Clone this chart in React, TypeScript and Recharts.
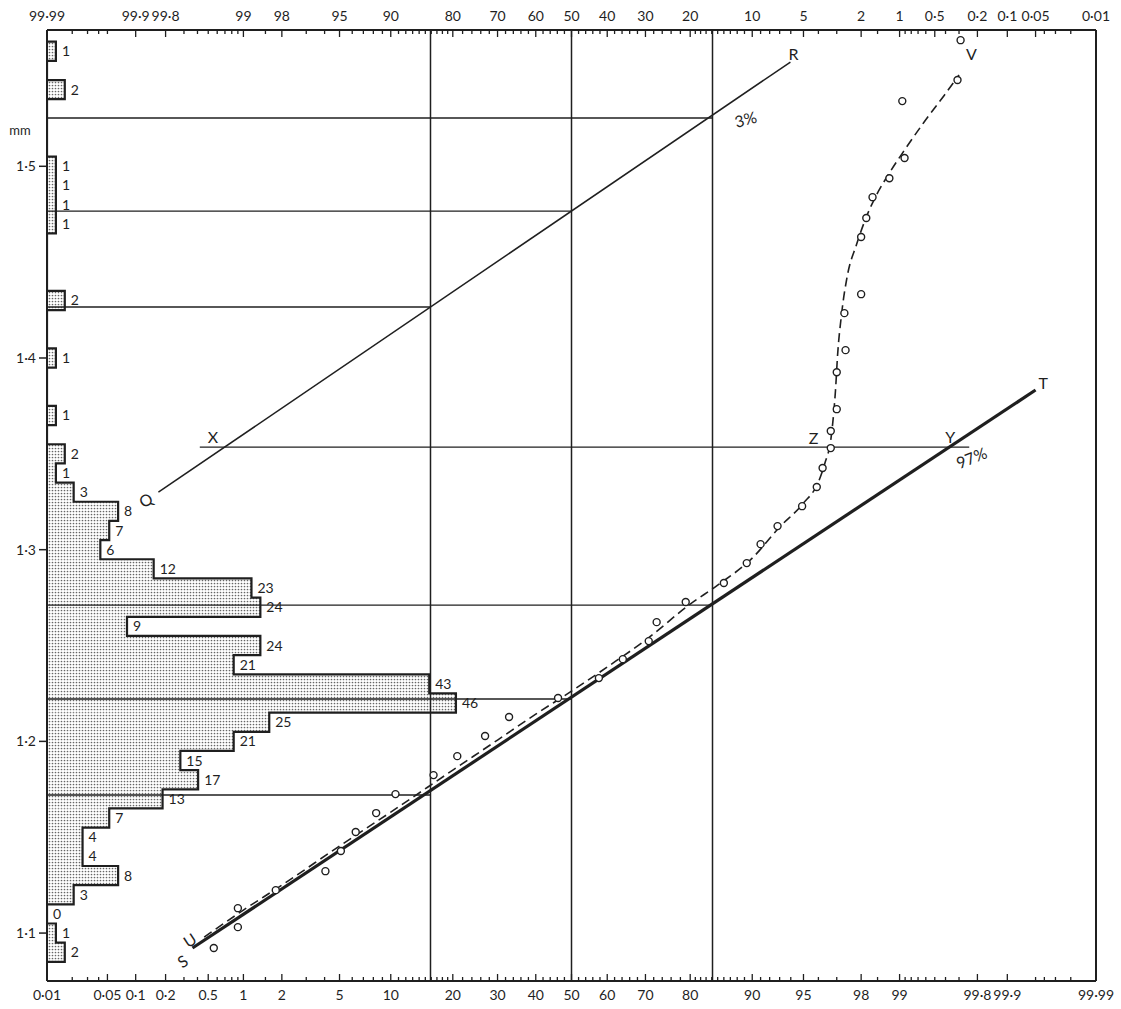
import {
  ComposedChart, XAxis, YAxis, Line, Scatter, ReferenceLine, ReferenceArea, ReferenceDot,
} from 'recharts'

const FONT = 'Lato, "Open Sans", sans-serif'
const INK = '#1f1f1f'

// histogram of diameters: bin centres (mm) and counts
const binMm = [
  1.09, 1.10, 1.11, 1.12, 1.13, 1.14, 1.15, 1.16, 1.17, 1.18, 1.19, 1.20,
  1.21, 1.22, 1.23, 1.24, 1.25, 1.26, 1.27, 1.28, 1.29, 1.30, 1.31, 1.32,
  1.33, 1.34, 1.35, 1.36, 1.37, 1.38, 1.39, 1.40, 1.41, 1.42, 1.43, 1.44,
  1.45, 1.46, 1.47, 1.48, 1.49, 1.50, 1.51, 1.52, 1.53, 1.54, 1.55, 1.56,
]
const binCount = [
  2, 1, 0, 3, 8, 4, 4, 7, 13, 17, 15, 21,
  25, 46, 43, 21, 24, 9, 24, 23, 12, 6, 7, 8,
  3, 1, 2, 0, 1, 0, 0, 1, 0, 0, 2, 0,
  0, 0, 1, 1, 1, 1, 0, 0, 0, 2, 0, 1,
]
const zeroLabelled = [1.11]

// probability scale ticks (percent under the curve, read from the bottom)
const bottomTickPct = [0.01, 0.05, 0.1, 0.2, 0.5, 1, 2, 5, 10, 20, 30, 40, 50, 60, 70, 80, 90, 95, 98, 99, 99.8, 99.9, 99.99]
const bottomTickText = ['0·01', '0·05', '0·1', '0·2', '0.5', '1', '2', '5', '10', '20', '30', '40', '50', '60', '70', '80', '90', '95', '98', '99', '99·8', '99·9', '99·99']
const topTickPct = [0.01, 0.1, 0.2, 1, 2, 5, 10, 20, 30, 40, 50, 60, 70, 80, 90, 95, 98, 99, 99.5, 99.8, 99.9, 99.95, 99.99]
const topTickText = ['99·99', '99·9', '99·8', '99', '98', '95', '90', '80', '70', '60', '50', '40', '30', '20', '10', '5', '2', '1', '0·5', '0·2', '0·1', '0·05', '0·01']
const minorTickPct = [
  0.02, 0.03, 0.04, 0.05, 0.3, 0.4, 0.5, 0.6, 0.7, 0.8, 0.9, 1.5, 3, 4, 6, 7, 8, 9,
  11, 12, 13, 14, 15, 16, 17, 18, 19, 22, 24, 26, 28, 32, 34, 36, 38, 42, 44, 46, 48,
  52, 54, 56, 58, 62, 64, 66, 68, 72, 74, 76, 78, 81, 82, 83, 84, 85, 86, 87, 88, 89,
  91, 92, 93, 94, 96, 97, 98.5, 99.1, 99.2, 99.3, 99.4, 99.5, 99.6, 99.7, 99.95, 99.96, 99.97, 99.98,
]
const mmTicks = [1.1, 1.2, 1.3, 1.4, 1.5]

// plotted cumulative points (open circles)
const pointPct = [
  0.56, 0.9, 0.9, 1.8, 4.05, 5.1, 6.3, 8.3, 10.6, 16.4, 20.9, 27.0, 32.9, 46.2,
  57.7, 64.2, 70.8, 72.7, 79.1, 86.0, 89.3, 91.0, 92.8, 94.9, 95.9, 96.25, 96.7,
  96.7, 97.0, 97.0, 97.4, 97.35, 98.0, 98.0, 98.17, 98.36, 98.79, 99.09, 99.05, 99.69, 99.71,
]
const pointMm = [
  1.0922, 1.1031, 1.1130, 1.1224, 1.1323, 1.1428, 1.1527, 1.1626, 1.1725, 1.1824, 1.1923, 1.2028, 1.2127, 1.2226,
  1.2330, 1.2429, 1.2523, 1.2622, 1.2727, 1.2826, 1.2930, 1.3029, 1.3123, 1.3227, 1.3327, 1.3426, 1.3530,
  1.3619, 1.3733, 1.3926, 1.4041, 1.4234, 1.4333, 1.4631, 1.4730, 1.4839, 1.4938, 1.5043, 1.5340, 1.5450, 1.5658,
]

// dashed curve U–V
const curvePct = [
  0.46, 1, 2, 5, 10, 20, 30, 40, 50, 60, 70, 80, 85, 90, 93, 95, 96,
  96.4, 96.7, 96.84, 96.94, 97.04, 97.22, 97.48, 97.83, 98.17, 98.47, 98.79, 99.09, 99.38, 99.59, 99.7,
]
const curveMm = [
  1.0979, 1.112, 1.125, 1.1454, 1.1631, 1.185, 1.2007, 1.2142, 1.2262, 1.2388, 1.2528, 1.2716, 1.2815, 1.2956, 1.3118, 1.3243, 1.3353,
  1.3457, 1.3572, 1.3702, 1.3833, 1.4015, 1.4224, 1.4432, 1.4589, 1.4735, 1.485, 1.4965, 1.5085, 1.5231, 1.5371, 1.5476,
]

// straight lines S–T (97 %) and Q–R (3 %)
const stPct = [0.36, 99.95]
const stMm = [1.0922, 1.3833]
const qrPct = [0.17, 93.97]
const qrMm = [1.330, 1.5544]

// construction lines
const vPct = [15.87, 50, 84.13]
const hFromPct = [0.01, 0.01, 0.01, 0.42, 0.01, 0.01, 0.01]
const hToPct = [84.13, 50, 15.87, 99.76, 84.13, 50, 15.87]
const hMm = [1.5252, 1.4766, 1.4266, 1.3535, 1.2711, 1.2221, 1.1720]

const CNT_MAX = 118

// inverse normal CDF (Acklam), percent in -> z out
function probit(pct: number) {
  const p = pct / 100
  const a = [-39.69683028665376, 220.9460984245205, -275.9285104469687, 138.357751867269, -30.66479806614716, 2.506628277459239]
  const b = [-54.47609879822406, 161.5858368580409, -155.6989798598866, 66.80131188771972, -13.28068155288572]
  const c = [-0.007784894002430293, -0.3223964580411365, -2.400758277161838, -2.549732539343734, 4.374664141464968, 2.938163982698783]
  const d = [0.007784695709041462, 0.3224671290700398, 2.445134137142996, 3.754408661907416]
  const lo = 0.02425
  if (p < lo) {
    const q = Math.sqrt(-2 * Math.log(p))
    return (((((c[0] * q + c[1]) * q + c[2]) * q + c[3]) * q + c[4]) * q + c[5]) / ((((d[0] * q + d[1]) * q + d[2]) * q + d[3]) * q + 1)
  }
  if (p > 1 - lo) {
    const q = Math.sqrt(-2 * Math.log(1 - p))
    return -(((((c[0] * q + c[1]) * q + c[2]) * q + c[3]) * q + c[4]) * q + c[5]) / ((((d[0] * q + d[1]) * q + d[2]) * q + d[3]) * q + 1)
  }
  const q = p - 0.5
  const r = q * q
  return (((((a[0] * r + a[1]) * r + a[2]) * r + a[3]) * r + a[4]) * r + a[5]) * q / (((((b[0] * r + b[1]) * r + b[2]) * r + b[3]) * r + b[4]) * r + 1)
}

const zMin = probit(0.01)
const zMax = probit(99.99)

const bottomTicks = [...bottomTickPct, ...minorTickPct.filter((p) => !bottomTickPct.includes(p))].map(probit)
const topTicks = [...topTickPct, ...minorTickPct.filter((p) => !topTickPct.includes(p))].map(probit)

const points = pointPct.map((p, i) => ({ x: probit(p), y: pointMm[i] }))
const curve = curvePct.map((p, i) => ({ x: probit(p), y: curveMm[i] }))
const stLine = stPct.map((p, i) => ({ x: probit(p), y: stMm[i] }))
const qrLine = qrPct.map((p, i) => ({ x: probit(p), y: qrMm[i] }))

const outline: { c: number; y: number }[] = [{ c: 0, y: binMm[0] - 0.005 }]
binMm.forEach((m, i) => {
  outline.push({ c: binCount[i], y: m - 0.005 }, { c: binCount[i], y: m + 0.005 })
})
outline.push({ c: 0, y: binMm[binMm.length - 1] + 0.005 })

function ProbTick(props: any) {
  const { x, y, payload, side } = props
  const pcts = side === 'top' ? topTickPct : bottomTickPct
  const texts = side === 'top' ? topTickText : bottomTickText
  const i = pcts.findIndex((p) => Math.abs(probit(p) - payload.value) < 1e-9)
  const len = i >= 0 ? 7 : 4
  const d = side === 'top' ? 1 : -1
  return (
    <g>
      <line x1={x} y1={y} x2={x} y2={y + d * len} stroke={INK} strokeWidth={1.3} />
      {i >= 0 && (
        <text x={x} y={side === 'top' ? y - 9 : y + 19} textAnchor='middle' fontSize={14} fontFamily={FONT} fill={INK}>
          {texts[i]}
        </text>
      )}
    </g>
  )
}

function Tag(props: any) {
  const { viewBox, text, dx = 0, dy = 0, rot = 0, size = 16, anchor = 'start' } = props
  if (!viewBox) return null
  const x = viewBox.x + (viewBox.width || 0) / 2 + dx
  const y = viewBox.y + (viewBox.height || 0) / 2 + dy
  return (
    <text x={x} y={y} fontSize={size} fontFamily={FONT} fill={INK} textAnchor={anchor}
      transform={rot ? `rotate(${rot} ${x} ${y})` : undefined}>
      {text}
    </text>
  )
}

export default function App() {
  const ids = { xAxisId: 'p', yAxisId: 'mm' }
  return (
    <div style={{ position: 'absolute', left: 0, top: 0, width: 1121, height: 1009, background: '#fff' }}>
      <ComposedChart width={1121} height={1009} margin={{ top: 0, right: 25, bottom: 0, left: 0 }}>
        <defs>
          <pattern id='dots' width={3} height={3} patternUnits='userSpaceOnUse'>
            <rect width={3} height={3} fill='#fff' />
            <circle cx={1.5} cy={1.5} r={0.85} fill='#666' />
          </pattern>
        </defs>
        <XAxis
          xAxisId='p' dataKey='x' type='number' domain={[zMin, zMax]} allowDataOverflow
          ticks={bottomTicks} interval={0} tickSize={0} tickMargin={0} height={28}
          axisLine={{ stroke: INK, strokeWidth: 2 }} tickLine={false}
          tick={(t: any) => <ProbTick {...t} side='bottom' />}
        />
        <XAxis
          xAxisId='top' dataKey='x' orientation='top' type='number' domain={[zMin, zMax]} allowDataOverflow
          ticks={topTicks} interval={0} tickSize={0} tickMargin={0} height={30}
          axisLine={{ stroke: INK, strokeWidth: 2 }} tickLine={false}
          tick={(t: any) => <ProbTick {...t} side='top' />}
        />
        <XAxis xAxisId='cnt' dataKey='c' type='number' domain={[0, CNT_MAX]} allowDataOverflow hide height={0} />
        <YAxis
          yAxisId='mm' dataKey='y' type='number' domain={[1.075, 1.5711]} allowDataOverflow
          ticks={mmTicks} interval={0} width={47} tickSize={8} tickMargin={3}
          axisLine={{ stroke: INK, strokeWidth: 2 }} tickLine={{ stroke: INK, strokeWidth: 1.5 }}
          tickFormatter={(v: number) => v.toFixed(1).replace('.', '·')}
          tick={{ fontSize: 14, fill: INK, fontFamily: FONT }}
        />

        {binMm.map((m, i) => binCount[i] > 0 && (
          <ReferenceArea key={`bin-${m}`} xAxisId='cnt' yAxisId='mm' x1={0} x2={binCount[i]}
            y1={m - 0.005} y2={m + 0.005} fill='url(#dots)' fillOpacity={1} stroke='none' ifOverflow='visible' />
        ))}

        {vPct.map((p) => (
          <ReferenceLine key={`v-${p}`} {...ids} x={probit(p)} stroke={INK} strokeWidth={1.5} />
        ))}
        <ReferenceLine {...ids} x={zMax} stroke={INK} strokeWidth={2} />
        {hMm.map((m, i) => (
          <ReferenceLine key={`h-${i}`} {...ids} ifOverflow='visible'
            segment={[{ x: probit(hFromPct[i]), y: m }, { x: probit(hToPct[i]), y: m }]}
            stroke={INK} strokeWidth={1.4} />
        ))}

        {/* carries the top scale, draws nothing */}
        <Line xAxisId='top' yAxisId='mm' data={stLine} dataKey='y' stroke='none' dot={false}
          activeDot={false} isAnimationActive={false} />
        <Line xAxisId='cnt' yAxisId='mm' data={outline} dataKey='y' type='linear' stroke={INK}
          strokeWidth={2.2} dot={false} activeDot={false} isAnimationActive={false} />
        <Line {...ids} data={qrLine} dataKey='y' type='linear' stroke={INK} strokeWidth={1.5}
          dot={false} activeDot={false} isAnimationActive={false} />
        <Line {...ids} data={stLine} dataKey='y' type='linear' stroke={INK} strokeWidth={3.2}
          dot={false} activeDot={false} isAnimationActive={false} />
        <Line {...ids} data={curve} dataKey='y' type='monotone' stroke={INK} strokeWidth={1.6}
          strokeDasharray='9 5' dot={false} activeDot={false} isAnimationActive={false} />
        <Scatter {...ids} data={points} isAnimationActive={false}
          shape={(s: any) => <circle cx={s.cx} cy={s.cy} r={3.5} fill='#fff' stroke={INK} strokeWidth={1.4} />} />

        {binMm.map((m, i) => (binCount[i] > 0 || zeroLabelled.includes(m)) && (
          <ReferenceDot key={`lab-${m}`} xAxisId='cnt' yAxisId='mm' x={binCount[i]} y={m} r={0}
            ifOverflow='visible' label={<Tag text={String(binCount[i])} dx={6} dy={5} size={14} />} />
        ))}

        <ReferenceDot {...ids} x={zMin} y={1.5189} r={0} ifOverflow='visible'
          label={<Tag text='mm' dx={-27} dy={5} size={13} anchor='middle' />} />
        <ReferenceDot {...ids} x={probit(qrPct[1])} y={qrMm[1]} r={0} label={<Tag text='R' dx={-2} dy={-2} />} />
        <ReferenceDot {...ids} x={probit(qrPct[0])} y={qrMm[0]} r={0} label={<Tag text='Q' dx={-4} dy={10} rot={-30} anchor='end' />} />
        <ReferenceDot {...ids} x={probit(stPct[0])} y={stMm[0]} r={0} label={<Tag text='S' dx={-3} dy={16} rot={-33} anchor='end' />} />
        <ReferenceDot {...ids} x={probit(stPct[1])} y={stMm[1]} r={0} label={<Tag text='T' dx={3} dy={-1} />} />
        <ReferenceDot {...ids} x={probit(curvePct[0])} y={curveMm[0]} r={0} label={<Tag text='U' dx={-6} dy={5} rot={-33} anchor='end' />} />
        <ReferenceDot {...ids} x={probit(curvePct[curvePct.length - 1])} y={curveMm[curveMm.length - 1]} r={0}
          label={<Tag text='V' dx={7} dy={-15} />} />
        <ReferenceDot {...ids} x={probit(hFromPct[3])} y={hMm[3]} r={0} label={<Tag text='X' dx={8} dy={-4} />} />
        <ReferenceDot {...ids} x={probit(hToPct[3])} y={hMm[3]} r={0} label={<Tag text='Y' dx={-24} dy={-4} />} />
        <ReferenceDot {...ids} x={probit(pointPct[26])} y={pointMm[26]} r={0} label={<Tag text='Z' dx={-22} dy={-4} />} />
        <ReferenceDot {...ids} x={probit(hToPct[0])} y={hMm[0]} r={0} label={<Tag text='3%' dx={24} dy={10} rot={-15} />} />
        <ReferenceDot {...ids} x={probit(hToPct[3])} y={hMm[3]} r={0} label={<Tag text='97%' dx={-10} dy={22} rot={-22} />} />
      </ComposedChart>
    </div>
  )
}
